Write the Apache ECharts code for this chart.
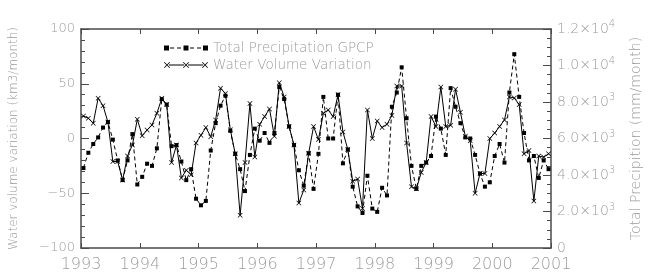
<!DOCTYPE html>
<html>
<head>
<meta charset="utf-8">
<script src="https://cdn.jsdelivr.net/npm/echarts@6/dist/echarts.min.js"></script>
<style>
  html, body { margin: 0; padding: 0; background: #fff; }
  #main { width: 651px; height: 280px; }
</style>
</head>
<body>
<div id="main"></div>
<script>
    // monthly values, Jan 1993 .. Dec 2000
    var startYear = 1993;
    var yearTicks = [1993, 1994, 1995, 1996, 1997, 1998, 1999, 2000, 2001];

    // Water Volume Variation (km3/month), left axis
    var water = [
        20.6, 18.5, 14, 36.7, 30, 15, -21, -21, -38, -16, -6, 17.5,
        2.6, 7.8, 12.4, 23, 36.7, 31, -22, -6, -36, -29, -33, -4,
        3, 10, 1.7, 17, 46, 41, 8, -14, -70, -22, 32, -17,
        13, 20, 27, 2, 51, 38, 11, -6, -59, -47, -13.5, 11,
        -1, 23, 26, 20, 40, 6, -10, -39, -37, -64, 26, 0,
        16, 10, 13, 21, 48, 48, -4, -44, -46, -31, -22, 20,
        11, 47, 11, 12, 45, 24, 2, -2, -50, -32, -32, 0,
        5, 11, 17, 38, 37, 31, -14, -11, -57, -16, -17, -14
    ];

    // Total Precipitation GPCP (mm/month), right axis
    var precip = [
        4380, 5220, 5700, 6060, 6600, 6900, 5940, 4800, 3720, 4800, 6240, 3480,
        3900, 4620, 4500, 5460, 8160, 7860, 5580, 5640, 4740, 3720, 4320, 2700,
        2340, 2580, 5340, 6840, 7800, 8340, 6420, 5160, 4320, 3120, 5100, 6540,
        5880, 6300, 5760, 6300, 8820, 8160, 6660, 5640, 4260, 3420, 5190, 3240,
        5160, 8280, 6000, 6000, 8400, 4640, 5400, 3360, 2280, 1920, 3960, 2160,
        1980, 3300, 2880, 7740, 8520, 9900, 7110, 4500, 3240, 4500, 4680, 5040,
        7200, 6540, 5100, 8760, 7740, 6840, 6060, 6000, 5100, 4080, 3360, 3600,
        5040, 5700, 4680, 8520, 10620, 8280, 6300, 4800, 5040, 3840, 4800, 4320
    ];

    var rightTicks = {
        0: '0',
        2000: '{m|2.0×10}{s|3}',
        4000: '{m|4.0×10}{s|3}',
        6000: '{m|6.0×10}{s|3}',
        8000: '{m|8.0×10}{s|3}',
        10000: '{m|1.0×10}{s|4}',
        12000: '{m|1.2×10}{s|4}'
    };

    function monthly(arr) {
        return arr.map(function (v, i) { return [startYear + (i + 0.5) / 12, v]; });
    }

    // plot symbol (cross) and legend icons: 3 symbols joined by a line, like the original key
    var xShape = 'path://M0,1L1,0L5,4L9,0L10,1L6,5L10,9L9,10L5,6L1,10L0,9L4,5Z';
    function crossAt(ox) {
        return 'M' + ox + ',0.6L' + (ox + 0.6) + ',0L' + (ox + 3) + ',2.4L' + (ox + 5.4) + ',0L' + (ox + 6) + ',0.6L' +
            (ox + 3.6) + ',3L' + (ox + 6) + ',5.4L' + (ox + 5.4) + ',6L' + (ox + 3) + ',3.6L' + (ox + 0.6) + ',6L' +
            ox + ',5.4L' + (ox + 2.4) + ',3Z';
    }
    var waterIcon = 'path://' + crossAt(0) + crossAt(19) + crossAt(38) +
        'M5,2.5h15v1h-15Z M24,2.5h15v1h-15Z';
    var precipIcon = 'path://M0,0.5h5v5h-5Z M19.5,0.5h5v5h-5Z M39,0.5h5v5h-5Z' +
        'M6,2.5h4v1h-4Z M13,2.5h4v1h-4Z M26,2.5h4v1h-4Z M33,2.5h4v1h-4Z M0,0h0.01v6h-0.01Z';

    var axisCol = '#4a4a4a';
    var textCol = '#9c9c9c';
    var font = 'DejaVu Sans';
    var weight = 200;

    var myChart = echarts.init(document.getElementById('main'));
    var option = {
        animation: false,
        textStyle: { fontFamily: font, fontWeight: weight },
        grid: { left: 77, right: 99, top: 29, bottom: 32 },
        legend: {
            orient: 'vertical',
            left: 159,
            top: 36,
            itemWidth: 44,
            itemHeight: 6,
            itemGap: 3,
            textStyle: { color: textCol, fontSize: 13.5, fontFamily: font, fontWeight: weight },
            data: [
                { name: 'Total Precipitation GPCP', icon: precipIcon },
                { name: 'Water Volume Variation', icon: waterIcon }
            ]
        },
        xAxis: [
            {
                type: 'value',
                min: yearTicks[0],
                max: yearTicks[yearTicks.length - 1],
                interval: 1,
                axisLine: { onZero: false, lineStyle: { color: axisCol, width: 1.5 } },
                axisTick: { inside: true, length: 5, lineStyle: { color: axisCol } },
                axisLabel: { color: textCol, fontSize: 16, fontWeight: weight, margin: 9, formatter: function (v) { return String(v); } },
                splitLine: { show: false }
            },
            {
                type: 'value',
                position: 'top',
                min: yearTicks[0],
                max: yearTicks[yearTicks.length - 1],
                interval: 1,
                axisLine: { onZero: false, lineStyle: { color: axisCol, width: 1.5 } },
                axisTick: { inside: true, length: 5, lineStyle: { color: axisCol } },
                axisLabel: { show: false },
                splitLine: { show: false }
            }
        ],
        yAxis: [
            {
                type: 'value',
                min: -100,
                max: 100,
                interval: 50,
                name: 'Water volume variation (km3/month)',
                nameLocation: 'middle',
                nameGap: 61,
                nameTextStyle: { color: textCol, fontSize: 12, fontWeight: weight },
                axisLine: { show: true, onZero: false, lineStyle: { color: axisCol, width: 1.5 } },
                axisTick: { inside: true, length: 8, lineStyle: { color: axisCol, width: 1 } },
                minorTick: { show: true, splitNumber: 5, length: 4, lineStyle: { color: axisCol, width: 1 } },
                axisLabel: { color: textCol, fontSize: 13, fontWeight: weight, margin: 6, formatter: function (v) { return v < 0 ? '\u2212' + (-v) : String(v); } },
                splitLine: { show: false }
            },
            {
                type: 'value',
                min: 0,
                max: 12000,
                interval: 2000,
                position: 'right',
                name: 'Total Precipition (mm/month)',
                nameLocation: 'middle',
                nameRotate: 90,
                nameGap: 78,
                nameTextStyle: { color: textCol, fontSize: 14, fontWeight: weight },
                axisLine: { show: true, onZero: false, lineStyle: { color: axisCol, width: 1.5 } },
                axisTick: { inside: true, length: 8, lineStyle: { color: axisCol, width: 1 } },
                minorTick: { show: true, splitNumber: 4, length: 4, lineStyle: { color: axisCol, width: 1 } },
                axisLabel: {
                    color: textCol,
                    fontSize: 14,
                    fontWeight: weight,
                    margin: 6,
                    formatter: function (v) { return rightTicks[v]; },
                    rich: {
                        m: { color: textCol, fontSize: 14, fontFamily: font, fontWeight: weight },
                        s: { color: textCol, fontSize: 10, fontFamily: font, fontWeight: weight, padding: [0, 0, 9, 0] }
                    }
                },
                splitLine: { show: false }
            }
        ],
        series: [
            {
                name: 'Total Precipitation GPCP',
                type: 'line',
                yAxisIndex: 1,
                data: monthly(precip),
                symbol: 'rect',
                symbolSize: 4,
                itemStyle: { color: '#000' },
                lineStyle: { color: '#000', width: 1, type: [4, 3] }
            },
            {
                name: 'Water Volume Variation',
                type: 'line',
                yAxisIndex: 0,
                data: monthly(water),
                symbol: xShape,
                symbolSize: 5,
                itemStyle: { color: '#000' },
                lineStyle: { color: '#000', width: 1 }
            }
        ]
    };
    myChart.setOption(option);
</script>
</body>
</html>
